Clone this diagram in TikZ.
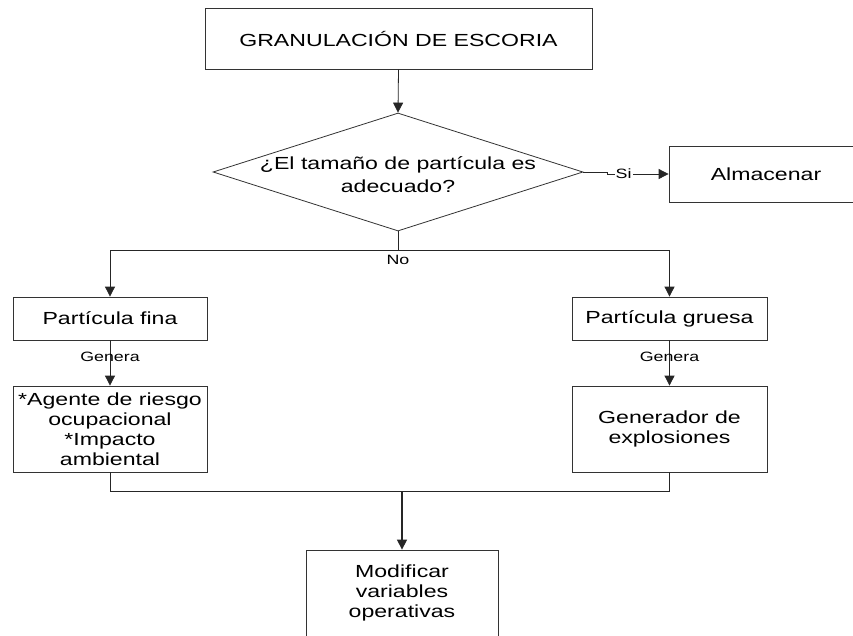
\documentclass[tikz,border=0pt]{standalone}
\usepackage{fontspec}
\setmainfont{Liberation Sans}[FakeStretch=1.32]
\usetikzlibrary{shapes.geometric,arrows.meta}
\tikzset{
  box/.style={draw=black!80, line width=0.8pt, rectangle, inner sep=0pt, align=center,
    font=\fontsize{17.5}{20}\selectfont},
  conn/.style={draw=black!85, line width=0.8pt},
  arr/.style={conn, -{Triangle[length=10pt,width=10pt]}},
  lbl/.style={font=\fontsize{13.5}{16}\selectfont, inner sep=1pt}
}
\begin{document}
\begin{tikzpicture}[x=1pt,y=-1pt]
\useasboundingbox (0,0) rectangle (853,635);
\clip (0,0) rectangle (853,635);
\fill[white] (0,0) rectangle (853,635);

\node[box, minimum width=387pt, minimum height=61pt] (top) at (398.5,38.5) {GRANULACIÓN DE ESCORIA};
\node[diamond, draw=black!80, line width=0.8pt, minimum width=370pt, minimum height=118pt, inner sep=0pt] (dec) at (398,172) {};
\node[align=center, font=\fontsize{17.5}{23}\selectfont] (dectext) at (398,175) {¿El tamaño de partícula es\\adecuado?};
\node[box, minimum width=194pt, minimum height=56pt] (alm) at (766,174) {Almacenar};
\node[box, minimum width=194pt, minimum height=43pt] (pf) at (110,318.5) {Partícula fina};
\node[box, minimum width=195pt, minimum height=43pt] (pg) at (669.5,318.5) {Partícula gruesa};
\node[box, minimum width=194pt, minimum height=86pt] (ag) at (110,429) {*Agente de riesgo\\ocupacional\\*Impacto\\ambiental};
\node[box, minimum width=195pt, minimum height=86pt] (gen) at (669.5,429) {Generador de\\explosiones};
\node[box, minimum width=192pt, minimum height=86pt] (mod) at (402,593) {Modificar\\variables\\operativas};

% top to decision
\draw[arr] (top.south) -- (dec.north);

% Si branch
\coordinate (sj1) at (607,172);
\coordinate (sj2) at (607,174);
\draw[conn] (dec.east) -- (sj1) -- (sj2);
\draw[arr] (sj2) -- node[lbl, fill=white, pos=0.27] (si) {Si} (alm.west);

% No branch
\coordinate (nj) at (398,250);
\coordinate (nl) at (110,250);
\coordinate (nr) at (669.5,250);
\draw[conn] (dec.south) -- (nj);
\draw[conn] (nl) -- (nr);
\node[lbl] (no) at (398,260) {No};
\draw[arr] (nl) -- (pf.north);
\draw[arr] (nr) -- (pg.north);

% Genera
\draw[arr] (pf.south) -- (ag.north);
\node[lbl] (g1) at (110,357) {Genera};
\draw[arr] (pg.south) -- (gen.north);
\node[lbl] (g2) at (669.5,357) {Genera};

% merge
\coordinate (ml) at (110,491);
\coordinate (mr) at (669.5,491);
\coordinate (mc) at (402,491);
\draw[conn] (ag.south) -- (ml) -- (mr) -- (gen.south);
\draw[arr, line width=1.2pt] (mc) -- (mod.north);
\end{tikzpicture}
\end{document}
